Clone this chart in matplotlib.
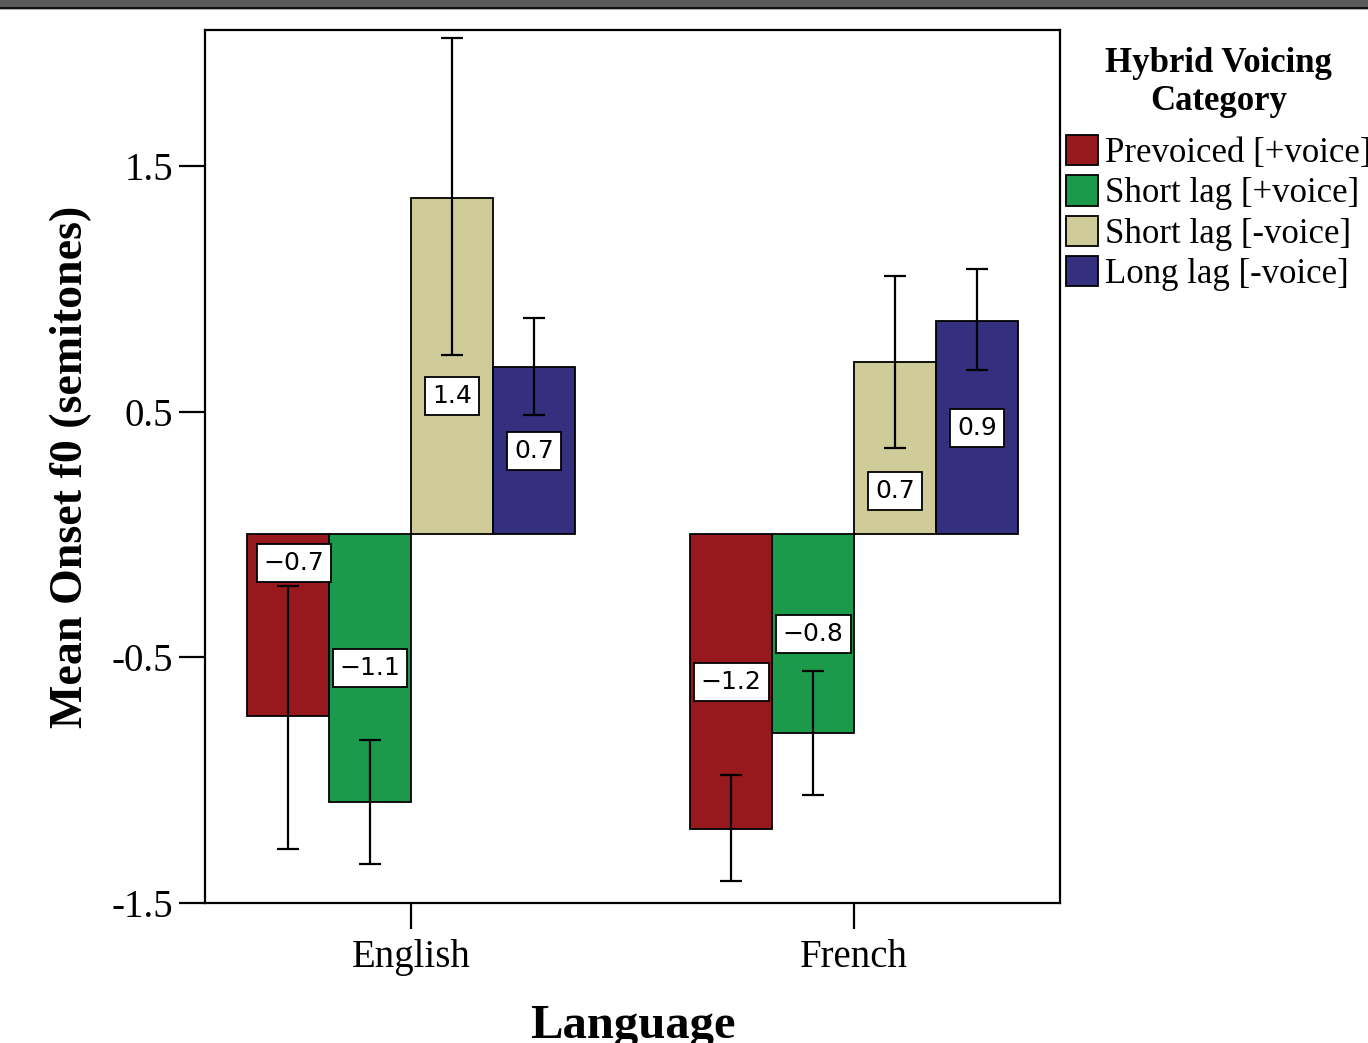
import numpy as np
import matplotlib
matplotlib.use("Agg")
import matplotlib.pyplot as plt
from matplotlib.patches import Rectangle, Patch

plt.rcParams['font.family'] = ['Liberation Serif', 'DejaVu Serif']
plt.rcParams['axes.unicode_minus'] = False

# Mean onset f0 per language and voicing category, with 95% CI bounds
languages = ['English', 'French']
categories = ['Prevoiced [+voice]', 'Short lag [+voice]', 'Short lag [-voice]', 'Long lag [-voice]']
colors = ['#98191d', '#1c9a4b', '#cfcc9a', '#34307f']

means = {
    'English': [-0.74, -1.09, 1.37, 0.68],
    'French': [-1.20, -0.81, 0.70, 0.87],
}
ci_low = {
    'English': [-1.28, -1.34, 0.73, 0.485],
    'French': [-1.41, -1.06, 0.35, 0.67],
}
ci_high = {
    'English': [-0.21, -0.835, 2.02, 0.88],
    'French': [-0.98, -0.555, 1.05, 1.08],
}
# shift of the value box away from the middle of the bar (so it clears the error bar)
label_shift = {
    'English': [0.255, 0.0, -0.12, 0.0],
    'French': [0.0, 0.0, -0.175, 0.0],
}

yticks = [-1.5, -0.5, 0.5, 1.5]

fig = plt.figure(figsize=(13.68, 10.43), dpi=100)
ax = fig.add_axes([0.1499, 0.1342, 0.625, 0.837])

# window strip along the top
fig.patches.append(Rectangle((0, 0.9935), 1, 0.0065, transform=fig.transFigure,
                             facecolor='#5a5a5a', edgecolor='none', zorder=10))
fig.patches.append(Rectangle((0, 0.9915), 1, 0.002, transform=fig.transFigure,
                             facecolor='#111111', edgecolor='none', zorder=10))
fig.patches.append(Rectangle((0, 0.9900), 1, 0.0015, transform=fig.transFigure,
                             facecolor='#b0b0b0', edgecolor='none', zorder=10))

width = 0.185
x = np.arange(len(languages))
for i, cat in enumerate(categories):
    offs = (i - 1.5) * width
    for j, lang in enumerate(languages):
        m = means[lang][i]
        xc = x[j] + offs
        ax.bar(xc, m, width=width, color=colors[i], edgecolor='black',
               linewidth=1.3, zorder=2)
        ax.errorbar(xc, m, yerr=[[m - ci_low[lang][i]], [ci_high[lang][i] - m]],
                    fmt='none', ecolor='black', elinewidth=1.6, capsize=8,
                    capthick=1.6, zorder=3)
        ly = m / 2 + label_shift[lang][i]
        txt = f'{m:.1f}'.replace('-', '\u2212')
        ax.text(xc + (0.013 if (j == 0 and i == 0) else 0), ly, txt,
                ha='center', va='center', fontsize=18, family='DejaVu Sans',
                zorder=4,
                bbox=dict(boxstyle='square,pad=0.28', facecolor='white',
                          edgecolor='black', linewidth=1.3))

ax.set_xlim(-0.465, 1.465)
ax.set_ylim(-1.5, 2.053)
ax.set_xticks(x)
ax.set_xticklabels(languages, fontsize=28)
ax.set_yticks(yticks)
ax.set_yticklabels([f'{v:.1f}' for v in yticks], fontsize=28)
ax.tick_params(axis='both', direction='out', length=19, width=1.6, pad=4)
ax.tick_params(axis='x', pad=7)
for sp in ax.spines.values():
    sp.set_linewidth(1.6)

ax.set_ylabel('Mean Onset f0 (semitones)', fontsize=33, fontweight='bold', labelpad=14)
ax.set_xlabel('Language', fontsize=35, fontweight='bold', labelpad=20)

handles = [Patch(facecolor=c, edgecolor='black', linewidth=1.3) for c in colors]
leg = fig.legend(handles, categories, loc='upper left',
                 bbox_to_anchor=(0.7765, 0.958), frameon=False, fontsize=25,
                 title='Hybrid Voicing\nCategory',
                 title_fontproperties={'size': 25, 'weight': 'bold',
                                       'family': 'Liberation Serif'},
                 handlelength=0.93, handleheight=0.97, handletextpad=0.2,
                 labelspacing=0.15, borderaxespad=0, borderpad=0.1)
leg._legend_box.align = 'center'
leg._legend_box.sep = 12
leg.get_title().set_multialignment('center')

fig.savefig('out.png', dpi=100)
